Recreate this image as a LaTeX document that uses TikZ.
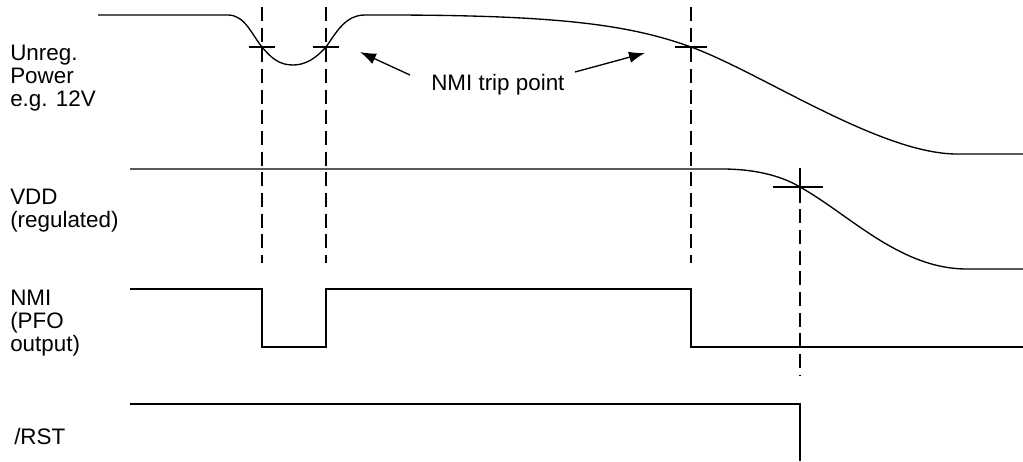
\documentclass[tikz,border=0pt]{standalone}
\usepackage{fontspec}
\setmainfont{Liberation Sans}
\usetikzlibrary{arrows.meta}

\begin{document}
\begin{tikzpicture}[x=0.75pt, y=-0.75pt, signal/.style={line width=1pt}, trip line/.style={line width=0.8pt, dash pattern=on 10.5pt off 5pt}, tick/.style={line width=0.8pt}, label node/.style={anchor=north west, align=left, inner sep=0pt, font=\fontsize{16.8}{17.3}\selectfont}, pointer/.style={line width=1pt, -{Latex[length=12pt, width=8.5pt]}}]

			\useasboundingbox (0,0) rectangle (1023,461);

			% signal names
			\node[label node] (unreg) at (10,45) {Unreg.\\Power\\e.g. 12V};
			\node[label node] (vdd) at (10,189) {VDD\\(regulated)};
			\node[label node] (nmi) at (10,290) {NMI\\(PFO\\output)};
			\node[label node] (rst) at (14,428) {/RST};

			% unregulated supply, short dip then slow decay
			\draw[signal] (98,15) -- (228,15) .. controls (245,15) and (252,35) .. (262,47) .. controls (272,59) and (280,65) .. (293,65) .. controls (306,65) and (316,58) .. (326,47) .. controls (336,33) and (345,15) .. (365,15) -- (385,15) .. controls (560,15) and (630,25) .. (691,47) .. controls (760,72) and (880,154) .. (957,154) -- (1023,154);

			% regulated VDD
			\draw[signal] (130,169) -- (722,169) .. controls (760,169) and (785,178) .. (800,187) .. controls (850,215) and (900,269) .. (967,269) -- (1023,269);

			% NMI / PFO output
			\draw[signal] (130,289) -- (262,289) -- (262,347) -- (326,347) -- (326,289) -- (691,289) -- (691,347) -- (1023,347);

			% reset
			\draw[signal] (130,404) -- (800,404) -- (800,461);

			% trip points
			\draw[trip line] (262,7) -- (262,263);
			\draw[trip line] (326,7) -- (326,263);
			\draw[trip line] (691,7) -- (691,263);
			\draw[trip line] (800,168) -- (800,375);
			\draw[tick] (249,47) -- (275,47);
			\draw[tick] (313,47) -- (339,47);
			\draw[tick] (675,47) -- (707,47);
			\draw[tick] (773,187) -- (823,187);
			\draw[tick] (800,168) -- (800,200);

			\node[anchor=north west, inner sep=0pt, font=\fontsize{16.8}{17.3}\selectfont] (trip) at (431,74) {NMI trip point};
			\coordinate (dip) at (360,52);
			\coordinate (fall) at (645,53);
			\coordinate (left tail) at (410,75);
			\coordinate (right tail) at (575,72);
			\draw[pointer] (left tail) -- (dip);
			\draw[pointer] (right tail) -- (fall);

\end{tikzpicture}
\end{document}
